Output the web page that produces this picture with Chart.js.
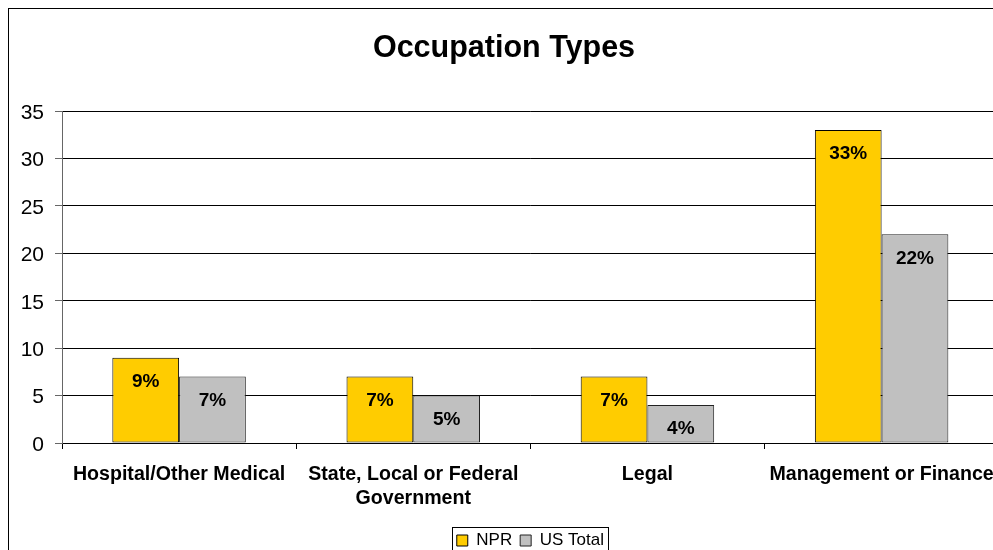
<!DOCTYPE html>
<html>
<head>
<meta charset="utf-8">
<script src="https://cdn.jsdelivr.net/npm/chart.js@4.4.0/dist/chart.umd.min.js"></script>
<style>
  html, body { margin: 0; padding: 0; background: #fff; overflow: hidden; width: 993px; height: 550px; }
  #frame { position: absolute; left: 8px; top: 8px; width: 1000px; height: 560px; border: 1px solid #000; background: #fff; }
  #c { position: absolute; left: 0; top: 0; }
</style>
</head>
<body>
<div id="frame"><canvas id="c" width="1000" height="550"></canvas></div>
<script>
const categories = ["Hospital/Other Medical", ["State, Local or Federal", "Government"], "Legal", "Management or Finance"];
const npr = [9, 7, 7, 33];
const usTotal = [7, 5, 4, 22];
const yTicks = [0, 5, 10, 15, 20, 25, 30, 35];
const FONT = "'Liberation Sans', Arial, Helvetica, sans-serif";

const valueLabels = {
  id: 'valueLabels',
  afterDatasetsDraw(chart) {
    const ctx = chart.ctx;
    ctx.save();
    ctx.font = "bold 19px " + FONT;
    ctx.fillStyle = '#000';
    ctx.textAlign = 'center';
    ctx.textBaseline = 'middle';
    chart.data.datasets.forEach((ds, i) => {
      chart.getDatasetMeta(i).data.forEach((bar, j) => {
        ctx.fillText(ds.data[j] + '%', bar.x, bar.y + 24);
      });
    });
    ctx.restore();
  }
};

const legendBorder = {
  id: 'legendBorder',
  afterDraw(chart) {
    const lg = chart.legend;
    if (!lg || !lg.legendHitBoxes.length) return;
    const boxes = lg.legendHitBoxes;
    const l = Math.min(...boxes.map(b => b.left)) - 5;
    const r = Math.max(...boxes.map(b => b.left + b.width)) + 4;
    const t = Math.min(...boxes.map(b => b.top)) - 5;
    const ctx = chart.ctx;
    ctx.save();
    ctx.strokeStyle = '#000';
    ctx.lineWidth = 1;
    ctx.strokeRect(Math.round(l) + 0.5, Math.round(t) + 0.5, Math.round(r - l), 60);
    ctx.restore();
  }
};

new Chart(document.getElementById('c'), {
  type: 'bar',
  data: {
    labels: categories,
    datasets: [
      { label: 'NPR', data: npr, backgroundColor: '#FFCC00', borderColor: '#000', borderWidth: 1, borderSkipped: false },
      { label: 'US Total', data: usTotal, backgroundColor: '#C0C0C0', borderColor: '#222', borderWidth: 1, borderSkipped: false }
    ]
  },
  options: {
    responsive: false,
    animation: false,
    events: [],
    layout: { padding: { left: 0, right: 10, top: 0, bottom: 0 } },
    datasets: { bar: { categoryPercentage: 0.57, barPercentage: 1.0 } },
    plugins: {
      title: {
        display: true,
        text: 'Occupation Types',
        color: '#000',
        font: { family: FONT, size: 30.5, weight: 'bold' },
        padding: { top: 21, bottom: 44.4 }
      },
      legend: {
        position: 'bottom',
        fullSize: false,
        labels: {
          color: '#000',
          font: { family: FONT, size: 17 },
          boxWidth: 11,
          boxHeight: 11,
          padding: 8
        }
      },
      tooltip: { enabled: false }
    },
    scales: {
      x: {
        grid: { drawOnChartArea: false, drawTicks: true, tickLength: 6, color: '#000', offset: true },
        border: { color: '#000', width: 1 },
        ticks: { color: '#000', font: { family: FONT, size: 19.6, weight: 'bold' }, padding: 14, maxRotation: 0, autoSkip: false },
        afterFit(scale) { scale.height = 81; }
      },
      y: {
        min: 0, max: 35,
        afterBuildTicks(scale) { scale.ticks = yTicks.map(v => ({ value: v })); },
        grid: { color: '#000', tickColor: '#666', tickLength: 7 },
        border: { color: '#666', width: 1 },
        ticks: { color: '#000', font: { family: FONT, size: 21 }, padding: 11, labelOffset: 2 },
        afterFit(scale) { scale.width = 53; }
      }
    }
  },
  plugins: [valueLabels, legendBorder]
});
</script>
</body>
</html>
